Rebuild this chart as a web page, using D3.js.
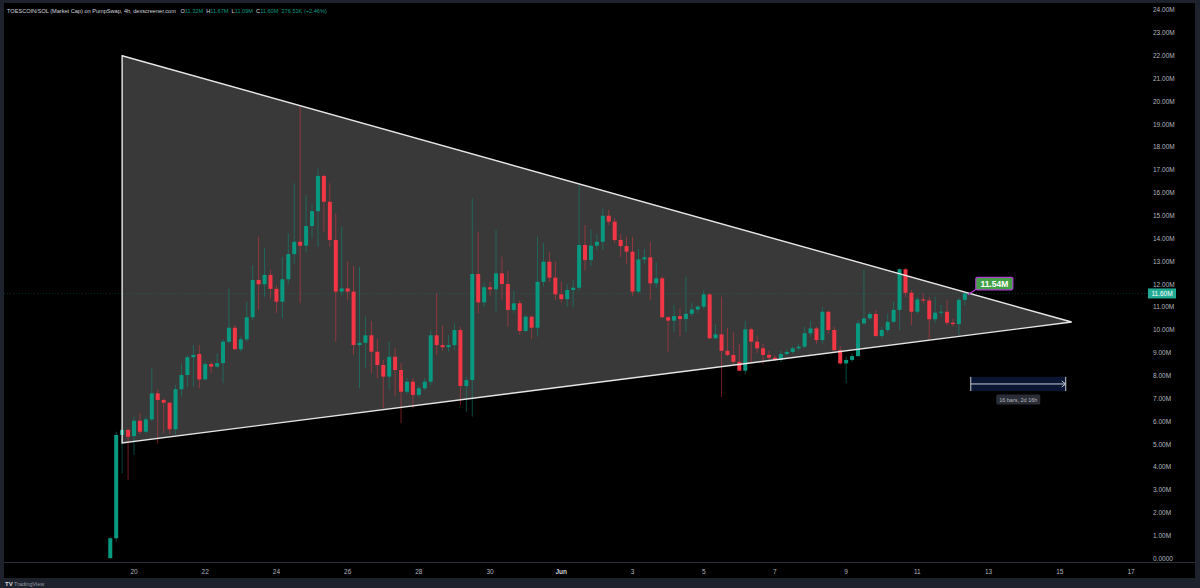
<!DOCTYPE html>
<html>
<head>
<meta charset="utf-8">
<script src="https://cdn.jsdelivr.net/npm/d3@7"></script>
<style>
  body { margin: 0; background: #1e222d; }
  svg text { font-family: "Liberation Sans", Arial, sans-serif; }
</style>
</head>
<body>
<div id="container"></div>
<script>
let w = 1200;
let h = 588;

// 4h candles, market cap in millions, first bar = 2025-05-19 08:00 UTC
let firstBar = Date.UTC(2025, 4, 19, 8);
let barHours = 4;

let open = [0.02, 0.89, 5.41, 5.63, 5.36, 6.03, 5.55, 6.09, 7.23, 6.94, 6.82, 5.66, 7.41, 8.03, 8.81, 8.95, 7.84, 8.51, 8.40, 8.55,
  9.49, 10.10, 9.16, 9.59, 10.56, 12.19, 12.00, 12.41, 11.80, 11.24, 12.22, 13.32, 13.86, 13.69, 14.55, 15.20, 16.74, 15.61, 13.94, 11.68,
  11.82, 11.68, 9.34, 9.44, 9.77, 9.05, 8.47, 7.96, 8.83, 8.25, 7.30, 7.74, 7.16, 7.45, 7.74, 9.77, 9.34, 9.25, 9.34, 10.00,
  7.55, 7.81, 12.45, 11.21, 11.87, 11.78, 12.48, 12.01, 10.88, 11.17, 9.96, 10.58, 10.10, 12.11, 12.99, 12.29, 11.56, 11.35, 11.75, 11.85,
  13.72, 13.06, 13.69, 13.86, 15.00, 14.74, 13.94, 13.67, 13.43, 11.68, 13.09, 13.18, 12.04, 12.26, 10.56, 10.41, 10.61, 10.48, 10.71, 10.90,
  11.02, 11.56, 9.64, 9.81, 9.09, 8.91, 8.61, 8.22, 10.03, 9.49, 9.20, 8.91, 8.79, 8.69, 8.95, 9.04, 9.20, 9.27, 9.86, 10.07,
  9.56, 10.80, 10.00, 9.12, 8.54, 8.69, 8.86, 10.29, 10.51, 10.70, 9.74, 10.00, 10.36, 10.88, 12.66, 11.63, 10.80, 11.34, 11.29, 10.47,
  10.76, 10.80, 10.32, 10.26, 11.32];
let high = [0.95, 5.55, 5.70, 5.70, 6.21, 6.38, 6.21, 8.32, 7.40, 7.01, 6.86, 7.60, 8.54, 8.90, 9.34, 9.34, 8.62, 8.62, 8.98, 9.60,
  11.82, 10.22, 9.71, 11.24, 12.84, 14.08, 13.57, 12.62, 11.95, 13.20, 14.24, 16.42, 19.77, 15.90, 15.50, 17.07, 16.80, 16.42, 15.10, 14.52,
  12.99, 12.80, 12.77, 10.58, 10.40, 9.60, 8.70, 9.49, 9.20, 8.55, 7.90, 7.90, 7.55, 7.90, 10.00, 11.60, 10.20, 9.78, 10.29, 10.15,
  7.95, 15.76, 14.30, 12.10, 12.10, 14.37, 13.21, 12.60, 11.70, 11.30, 10.65, 10.65, 14.08, 13.80, 13.40, 12.99, 12.10, 12.00, 12.20, 16.34,
  14.59, 14.40, 14.20, 15.32, 15.25, 14.90, 14.20, 14.08, 14.08, 13.55, 13.55, 13.86, 12.95, 12.35, 10.60, 11.10, 10.95, 12.33, 11.20, 11.10,
  11.75, 11.60, 10.25, 11.46, 10.10, 9.90, 9.40, 10.40, 10.10, 9.75, 9.40, 9.10, 8.90, 9.10, 9.15, 9.30, 9.40, 10.15, 10.40, 10.15,
  11.00, 10.85, 10.14, 9.30, 8.83, 8.98, 10.43, 12.62, 10.80, 10.87, 10.14, 10.72, 11.24, 12.70, 12.70, 11.75, 11.45, 11.60, 11.45, 11.45,
  11.10, 11.30, 10.50, 11.40, 11.67];
let low = [0.00, 0.74, 3.73, 3.44, 4.53, 5.45, 5.48, 6.00, 5.04, 5.48, 5.45, 5.45, 7.10, 7.50, 7.52, 7.45, 7.80, 8.10, 8.32, 7.67,
  9.42, 9.12, 9.05, 9.49, 10.44, 10.88, 11.46, 11.38, 10.73, 10.51, 12.00, 12.90, 11.17, 13.40, 14.00, 13.64, 14.30, 13.64, 9.49, 11.50,
  11.30, 8.91, 7.45, 8.32, 8.10, 7.90, 6.57, 7.40, 7.10, 5.92, 7.20, 6.57, 7.05, 7.35, 7.60, 8.90, 9.10, 9.05, 9.12, 6.72,
  6.43, 6.21, 10.73, 11.00, 11.50, 10.80, 11.30, 10.15, 10.75, 9.80, 9.90, 9.60, 9.71, 11.90, 12.10, 11.30, 11.20, 11.00, 11.00, 11.70,
  12.60, 12.80, 13.50, 13.50, 14.60, 13.80, 13.20, 12.90, 11.50, 11.60, 12.90, 11.31, 11.85, 10.50, 9.05, 9.90, 9.70, 9.90, 10.60, 10.75,
  10.90, 9.60, 9.60, 7.08, 8.85, 8.50, 8.20, 8.05, 8.60, 9.00, 8.50, 8.65, 8.65, 8.60, 8.90, 8.95, 9.10, 9.20, 9.70, 9.40,
  9.40, 9.85, 9.05, 8.47, 7.67, 8.61, 8.83, 10.20, 10.43, 9.70, 9.63, 9.90, 10.30, 10.00, 11.45, 10.22, 10.70, 11.16, 9.59, 10.30,
  10.60, 10.20, 10.15, 9.78, 11.09];
let close = [0.89, 5.41, 5.63, 5.33, 6.03, 5.55, 6.09, 7.23, 6.94, 6.82, 5.66, 7.41, 8.03, 8.81, 8.91, 7.84, 8.51, 8.40, 8.55, 9.49,
  10.10, 9.16, 9.59, 10.56, 12.19, 12.00, 12.41, 11.80, 11.24, 12.22, 13.32, 13.86, 13.69, 14.55, 15.20, 16.74, 15.61, 13.94, 11.68, 11.82,
  11.68, 9.34, 9.44, 9.77, 9.05, 8.47, 7.96, 8.83, 8.25, 7.30, 7.74, 7.16, 7.45, 7.74, 9.77, 9.34, 9.25, 9.34, 10.00, 7.55,
  7.81, 12.45, 11.21, 11.87, 11.78, 12.48, 12.01, 10.88, 11.17, 9.96, 10.58, 10.10, 12.11, 12.99, 12.29, 11.56, 11.35, 11.75, 11.85, 13.72,
  13.06, 13.69, 13.86, 15.00, 14.74, 13.94, 13.67, 13.43, 11.68, 13.09, 13.18, 12.04, 12.26, 10.56, 10.41, 10.61, 10.48, 10.71, 10.90, 11.02,
  11.56, 9.64, 9.81, 9.09, 8.91, 8.61, 8.22, 10.03, 9.49, 9.20, 8.91, 8.79, 8.69, 8.95, 9.04, 9.20, 9.27, 9.86, 10.07, 9.56,
  10.80, 10.00, 9.12, 8.54, 8.69, 8.86, 10.29, 10.51, 10.70, 9.74, 10.00, 10.36, 10.88, 12.66, 11.63, 10.80, 11.34, 11.29, 10.47, 10.76,
  10.80, 10.32, 10.26, 11.32, 11.60];

let dayTicks = ["2025-05-20", "2025-05-22", "2025-05-24", "2025-05-26", "2025-05-28", "2025-05-30", "2025-06-01",
  "2025-06-03", "2025-06-05", "2025-06-07", "2025-06-09", "2025-06-11", "2025-06-13", "2025-06-15", "2025-06-17"];

// triangle drawing: [bar index, value in M]
let triangle = [[2, 22.0], [162, 10.35], [2, 5.06]];
// date range tool: bar from/to, price band
let rangeBars = [145, 161];
let rangeBand = [7.33, 7.95];
let lastPrice = 11.60;
let noteValue = 11.54;

function barTime(i) {
  return new Date(firstBar + i * barHours * 3600 * 1000);
}

let x = d3.scaleUtc()
  .domain([new Date(Date.UTC(2025, 4, 20)), new Date(Date.UTC(2025, 5, 17))])
  .range([134, 1131]);

let y = d3.scaleLinear()
  .domain([0, 24])
  .range([558.6, 10]);

let candles = open.map(function (o, i) {
  return { t: barTime(i), o: o, h: high[i], l: low[i], c: close[i] };
});

let up = "#089981";
let down = "#f23645";

let viz = d3.select("#container")
  .append("svg")
  .attr("width", w)
  .attr("height", h)
  .style("display", "block")
  .style("background-color", "#1e222d");

// black chart panel
viz.append("rect")
  .attr("x", 4)
  .attr("y", 3)
  .attr("width", 1191)
  .attr("height", 575)
  .attr("fill", "#000000");

// time axis separator
viz.append("line")
  .attr("x1", 4)
  .attr("x2", 1195)
  .attr("y1", 562.5)
  .attr("y2", 562.5)
  .attr("stroke", "#2a2e39")
  .attr("stroke-width", 1);

// triangle fill (behind candles)
let triPts = triangle.map(function (p) { return [x(barTime(p[0])), y(p[1])]; });

viz.append("polygon")
  .attr("points", triPts.map(function (p) { return p.join(","); }).join(" "))
  .attr("fill", "#393939");

// last price dotted line
viz.append("line")
  .attr("x1", 4)
  .attr("x2", 1148)
  .attr("y1", y(lastPrice))
  .attr("y2", y(lastPrice))
  .attr("stroke", up)
  .attr("stroke-opacity", 0.45)
  .attr("stroke-width", 0.7)
  .attr("stroke-dasharray", "1,2");

// candles
let candleGroup = viz.append("g").attr("class", "candles");

candleGroup.selectAll("line")
  .data(candles)
  .enter()
  .append("line")
  .attr("x1", function (d) { return x(d.t); })
  .attr("x2", function (d) { return x(d.t); })
  .attr("y1", function (d) { return y(d.h); })
  .attr("y2", function (d) { return y(d.l); })
  .attr("stroke", function (d) { return d.c >= d.o ? up : down; })
  .attr("stroke-opacity", 0.6)
  .attr("stroke-width", 0.8);

candleGroup.selectAll("rect")
  .data(candles)
  .enter()
  .append("rect")
  .attr("x", function (d) { return x(d.t) - 2; })
  .attr("width", 4)
  .attr("y", function (d) { return y(Math.max(d.o, d.c)); })
  .attr("height", function (d) { return Math.max(1, Math.abs(y(d.o) - y(d.c))); })
  .attr("fill", function (d) { return d.c >= d.o ? up : down; });

// triangle outline
viz.append("polygon")
  .attr("points", triPts.map(function (p) { return p.join(","); }).join(" "))
  .attr("fill", "none")
  .attr("stroke", "#e6e6e6")
  .attr("stroke-width", 1.4);

// price note 11.54M
let ax = x(barTime(144)) + 3;
let ay = y(noteValue);
viz.append("line")
  .attr("x1", ax)
  .attr("y1", ay)
  .attr("x2", ax + 9)
  .attr("y2", ay - 6)
  .attr("stroke", "#b03fd0")
  .attr("stroke-width", 1.2);

viz.append("rect")
  .attr("x", ax + 8)
  .attr("y", ay - 17.5)
  .attr("width", 37)
  .attr("height", 12.5)
  .attr("rx", 1.5)
  .attr("fill", "#43a047")
  .attr("stroke", "#b03fd0")
  .attr("stroke-width", 1.2);

viz.append("text")
  .attr("x", ax + 26.5)
  .attr("y", ay - 8)
  .attr("text-anchor", "middle")
  .attr("font-size", 8.5)
  .attr("font-weight", "bold")
  .attr("fill", "#ffffff")
  .text(noteValue.toFixed(2) + "M");

// date range tool
let rx1 = x(barTime(rangeBars[0]));
let rx2 = x(barTime(rangeBars[1]));
let ry1 = y(rangeBand[1]);
let ry2 = y(rangeBand[0]);
let rmid = (ry1 + ry2) / 2;

viz.append("rect")
  .attr("x", rx1)
  .attr("y", ry1)
  .attr("width", rx2 - rx1)
  .attr("height", ry2 - ry1)
  .attr("fill", "#0a1533");

viz.append("line")
  .attr("x1", rx1).attr("x2", rx2)
  .attr("y1", rmid).attr("y2", rmid)
  .attr("stroke", "#c9ccd6").attr("stroke-width", 1);

viz.append("line")
  .attr("x1", rx1).attr("x2", rx1)
  .attr("y1", ry1).attr("y2", ry2)
  .attr("stroke", "#c9ccd6").attr("stroke-width", 1);

viz.append("line")
  .attr("x1", rx2).attr("x2", rx2)
  .attr("y1", ry1).attr("y2", ry2)
  .attr("stroke", "#c9ccd6").attr("stroke-width", 1);

viz.append("path")
  .attr("d", "M" + (rx2 - 4) + "," + (rmid - 3) + "L" + rx2 + "," + rmid + "L" + (rx2 - 4) + "," + (rmid + 3))
  .attr("fill", "none")
  .attr("stroke", "#c9ccd6")
  .attr("stroke-width", 1);

viz.append("rect")
  .attr("x", (rx1 + rx2) / 2 - 22)
  .attr("y", ry2 + 3.5)
  .attr("width", 44)
  .attr("height", 10)
  .attr("rx", 1.5)
  .attr("fill", "#2a2d35");

viz.append("text")
  .attr("x", (rx1 + rx2) / 2)
  .attr("y", ry2 + 10.5)
  .attr("text-anchor", "middle")
  .attr("font-size", 5.5)
  .attr("fill", "#b2b5be")
  .text((rangeBars[1] - rangeBars[0]) + " bars, 2d 16h");

// price axis
let yAxis = viz.append("g").attr("class", "yAxis");
yAxis.selectAll("text")
  .data(y.ticks(24))
  .enter()
  .append("text")
  .attr("x", 1153)
  .attr("y", function (d) { return y(d) + 2.3; })
  .attr("font-size", 6.5)
  .attr("fill", "#b2b5be")
  .text(function (d) { return d === 0 ? "0.0000" : d.toFixed(2) + "M"; });

viz.append("rect")
  .attr("x", 1148)
  .attr("y", y(lastPrice) - 5)
  .attr("width", 28)
  .attr("height", 10)
  .attr("fill", "#22ab94");

viz.append("text")
  .attr("x", 1162)
  .attr("y", y(lastPrice) + 2.3)
  .attr("text-anchor", "middle")
  .attr("font-size", 6.5)
  .attr("fill", "#ffffff")
  .text(lastPrice.toFixed(2) + "M");

// time axis
let parseDay = d3.utcParse("%Y-%m-%d");
viz.append("g")
  .attr("class", "xAxis")
  .selectAll("text")
  .data(dayTicks.map(parseDay))
  .enter()
  .append("text")
  .attr("x", function (d) { return x(d); })
  .attr("y", 573.5)
  .attr("text-anchor", "middle")
  .attr("font-size", 6.5)
  .attr("font-weight", function (d) { return d.getUTCDate() === 1 ? "bold" : "normal"; })
  .attr("fill", function (d) { return d.getUTCDate() === 1 ? "#d1d4dc" : "#b2b5be"; })
  .text(function (d) { return d.getUTCDate() === 1 ? d3.utcFormat("%b")(d) : d.getUTCDate(); });

// header legend
let header = viz.append("text")
  .attr("x", 7)
  .attr("y", 12.5)
  .attr("font-size", 5.6);

let last = candles[candles.length - 1];
let headerParts = [
  ["TOESCOIN/SOL (Market Cap) on PumpSwap, 4h, dexscreener.com   ", "#d1d4dc"],
  ["O", "#d1d4dc"], [last.o.toFixed(2) + "M  ", up],
  ["H", "#d1d4dc"], [last.h.toFixed(2) + "M  ", up],
  ["L", "#d1d4dc"], [last.l.toFixed(2) + "M  ", up],
  ["C", "#d1d4dc"], [last.c.toFixed(2) + "M  ", up],
  ["276.51K (+2.46%)", up]
];
header.selectAll("tspan")
  .data(headerParts)
  .enter()
  .append("tspan")
  .attr("fill", function (d) { return d[1]; })
  .style("white-space", "pre")
  .text(function (d) { return d[0]; });

// watermark bottom-left
viz.append("text")
  .attr("x", 5)
  .attr("y", 585.5)
  .attr("font-size", 6)
  .attr("font-weight", "bold")
  .attr("fill", "#d1d4dc")
  .text("TV");

viz.append("text")
  .attr("x", 14)
  .attr("y", 585.5)
  .attr("font-size", 5.5)
  .attr("fill", "#9598a1")
  .text("TradingView");
</script>
</body>
</html>
